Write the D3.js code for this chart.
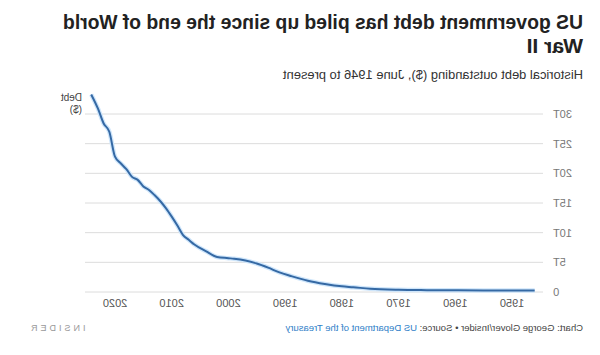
<!DOCTYPE html>
<html><head><meta charset="utf-8">
<script src="https://cdn.jsdelivr.net/npm/d3@7"></script>
<style>
html,body{margin:0;padding:0;background:#fff;}
svg{display:block;transform:scaleX(-1);font-family:"Liberation Sans",Arial,sans-serif;}
</style></head>
<body>
<svg id="chart" width="600" height="355"></svg>
<script>
const title1 = "US government debt has piled up since the end of World";
const title2 = "War II";
const subtitle = "Historical debt outstanding ($), June 1946 to present";
const years = [1946,1950,1955,1960,1965,1970,1975,1978,1980,1983,1986,1989,1991,1993,1995,1997,1999,2000,2002,2004,2006,2007,2008,2009,2010,2011,2012,2013,2014,2015,2016,2017,2018,2019,2020,2021,2022,2023,2024.2];
const debt = [0.27,0.26,0.27,0.28,0.31,0.37,0.55,0.8,0.95,1.35,1.9,2.7,3.3,4.1,4.8,5.3,5.6,5.7,5.9,6.9,8.0,8.8,9.6,11.2,12.7,14.1,15.3,16.3,17.2,17.8,18.9,19.4,20.7,21.7,22.8,27.0,28.4,30.9,33.3];
const yTicks = [0,5,10,15,20,25,30];
const yTickLabels = ["0","5T","10T","15T","20T","25T","30T"];
const xTicks = [1950,1960,1970,1980,1990,2000,2010,2020];

const svg = d3.select("#chart");
const x = d3.scaleLinear().domain([1950,2020]).range([88,485]);
const y = d3.scaleLinear().domain([0,30]).range([292,114]);

// titles
svg.append("text").attr("x",17).attr("y",29).attr("font-size",21).attr("font-weight","bold").attr("fill","#222")
  .attr("textLength",520).attr("lengthAdjust","spacingAndGlyphs").text(title1);
svg.append("text").attr("x",17).attr("y",53).attr("font-size",21).attr("font-weight","bold").attr("fill","#222")
  .text(title2);
svg.append("text").attr("x",17).attr("y",79).attr("font-size",13).attr("fill","#333")
  .attr("textLength",300).attr("lengthAdjust","spacingAndGlyphs").text(subtitle);

// grid
const gy = svg.append("g");
gy.selectAll("line").data(yTicks).join("line")
  .attr("x1",57).attr("x2",515).attr("y1",d=>y(d)).attr("y2",d=>y(d))
  .attr("stroke","#dcdcdc").attr("stroke-width",1);
gy.selectAll("text").data(yTicks).join("text")
  .attr("x",47).attr("y",d=>y(d)+4).attr("text-anchor","end")
  .attr("font-size",11).attr("fill","#777").text((d,i)=>yTickLabels[i]);

// y-axis title
svg.append("text").attr("x",518).attr("y",101).attr("font-size",10).attr("fill","#444").text("Debt");
svg.append("text").attr("x",518).attr("y",113).attr("font-size",10).attr("fill","#444").text("($)");

// x axis labels
svg.append("g").selectAll("text").data(xTicks).join("text")
  .attr("x",d=>x(d)).attr("y",307).attr("text-anchor","middle")
  .attr("font-size",11).attr("fill","#555").text(d=>d);

// line
const pts = years.map((yr,i)=>[yr,debt[i]]);
const line = d3.line().x(d=>x(d[0])).y(d=>y(d[1])).curve(d3.curveMonotoneX);
svg.append("path").datum(pts).attr("d",line).attr("fill","none")
  .attr("stroke","#cfe6fb").attr("stroke-width",4.5).attr("stroke-linejoin","round");
svg.append("path").datum(pts).attr("d",line).attr("fill","none")
  .attr("stroke","#3569a4").attr("stroke-width",2).attr("stroke-linejoin","round");

// footer
const f = svg.append("text").attr("x",17).attr("y",331).attr("font-size",9.5).attr("fill","#444");
f.append("tspan").text("Chart: George Glover/Insider \u2022 Source: ");
f.append("tspan").attr("fill","#2f80c8").text("US Department of the Treasury");
svg.append("text").attr("x",572).attr("y",331).attr("text-anchor","end").attr("font-size",9)
  .attr("letter-spacing",3).attr("fill","#999").text("INSIDER");
</script>
</body></html>
